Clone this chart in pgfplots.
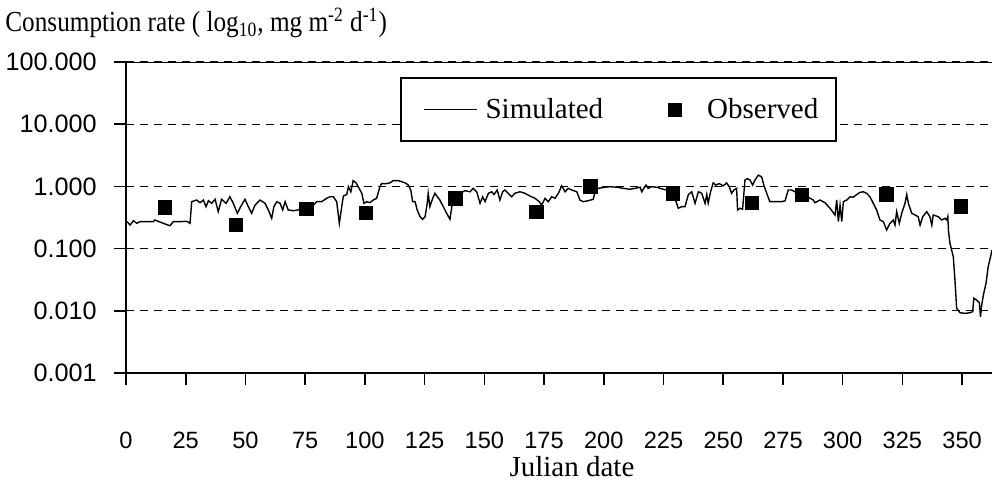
\documentclass[border=0pt]{standalone}
\usepackage{fontspec}
\setmainfont{Liberation Serif}
\newfontfamily\condserif[FakeStretch=0.87]{Liberation Serif}
\newfontfamily\arialfont{Liberation Sans}
\usepackage{pgfplots}
\pgfplotsset{compat=1.18}
\usepackage{pgfplotstable}

\pgfplotstableread{
day val
0.5 0.271
1.7 0.239
3.1 0.281
4.5 0.255
5.9 0.271
11.4 0.271
12.1 0.288
15.6 0.255
18.4 0.233
19.8 0.271
22.6 0.271
25.4 0.275
26.8 0.255
27.5 0.568
29.6 0.604
31.0 0.547
32.4 0.604
33.5 0.472
34.5 0.589
35.9 0.535
37.3 0.621
38.6 0.392
40.0 0.621
41.9 0.535
43.5 0.683
44.9 0.535
46.6 0.370
48.0 0.472
49.8 0.621
51.2 0.472
52.6 0.370
54.0 0.500
56.1 0.604
58.2 0.535
59.6 0.418
61.0 0.307
61.9 0.472
63.1 0.568
64.5 0.535
65.6 0.418
66.6 0.568
67.9 0.418
70.0 0.407
72.1 0.418
74.2 0.472
77.0 0.472
78.4 0.500
79.8 0.568
81.9 0.568
84.0 0.644
85.4 0.683
86.8 0.683
88.2 0.568
89.3 0.255
90.3 0.472
91.0 0.700
92.4 0.740
93.1 0.990
94.1 0.820
95.1 1.240
96.3 1.140
97.2 0.990
98.7 0.775
99.6 0.535
100.8 0.568
102.1 0.547
103.5 0.604
104.9 0.644
106.3 0.990
107.0 1.110
109.1 1.110
110.5 1.140
111.9 1.240
114.0 1.240
115.4 1.190
116.8 1.140
118.2 1.050
119.2 0.875
120.0 0.568
121.0 0.568
121.9 0.418
123.1 0.326
124.2 0.296
125.2 0.326
126.1 0.535
126.5 0.775
127.2 0.472
128.4 0.644
129.3 0.775
130.3 0.683
131.4 0.604
132.8 0.472
134.2 0.370
135.6 0.296
136.8 0.604
137.7 0.775
139.8 0.775
141.9 0.853
144.0 0.820
145.4 0.930
146.8 0.820
148.2 0.535
149.3 0.683
150.3 0.568
151.7 0.775
153.1 0.820
154.0 0.740
155.4 0.875
156.5 0.604
157.7 0.820
158.6 0.875
160.0 0.775
161.4 0.683
162.8 0.775
164.9 0.820
167.0 0.775
169.1 0.700
171.2 0.644
173.0 0.568
174.0 0.500
175.4 0.644
176.8 0.568
178.2 0.683
179.6 0.644
181.0 0.775
182.4 1.020
183.8 0.820
185.1 0.930
186.6 0.875
188.7 0.820
190.0 0.604
191.4 0.568
193.5 0.589
195.6 0.621
196.3 0.820
197.7 0.930
199.8 0.960
202.6 0.990
205.4 0.970
208.2 0.930
211.0 0.900
213.1 0.930
215.2 0.970
215.9 0.820
216.5 0.900
217.7 1.050
218.6 0.930
220.0 0.990
222.1 0.970
224.9 0.900
226.3 0.875
227.7 0.775
229.8 0.644
231.2 0.445
232.6 0.472
234.0 0.472
235.4 0.740
236.8 0.820
238.2 0.535
239.6 0.820
241.0 0.775
242.4 0.535
243.1 0.740
243.7 0.535
244.7 0.820
245.8 1.140
247.0 1.050
248.3 1.110
250.0 1.020
251.4 1.140
252.5 0.990
253.5 0.775
254.5 0.875
255.6 0.930
256.0 0.418
257.0 0.445
258.1 0.430
259.1 1.270
260.1 1.330
261.2 1.270
262.3 1.050
263.3 1.270
264.7 1.520
266.1 1.420
267.0 1.050
268.2 0.775
269.5 0.568
271.6 0.568
274.5 0.568
275.9 0.589
277.2 0.875
278.6 0.875
280.0 0.820
281.4 0.775
283.5 0.740
286.3 0.644
287.7 0.604
288.4 0.547
290.5 0.604
292.6 0.547
294.7 0.445
296.8 0.347
297.5 0.604
298.2 0.271
298.9 0.500
299.6 0.271
300.3 0.568
301.7 0.604
303.1 0.683
304.4 0.670
305.9 0.740
307.2 0.800
308.6 0.820
310.0 0.775
311.4 0.683
312.8 0.535
314.2 0.418
315.6 0.288
317.0 0.271
318.4 0.199
319.8 0.255
321.2 0.288
321.9 0.239
322.6 0.392
323.7 0.255
324.7 0.370
326.1 0.535
326.8 0.740
327.5 0.535
328.9 0.370
330.3 0.347
331.6 0.326
332.4 0.239
333.5 0.326
335.2 0.392
336.5 0.326
337.3 0.239
337.9 0.347
340.0 0.326
341.4 0.288
342.8 0.307
343.5 0.288
344.0 0.330
344.3 0.190
344.9 0.122
346.3 0.074
347.0 0.031
347.7 0.011
349.1 0.0093
351.2 0.0091
353.3 0.0093
354.4 0.0097
354.9 0.0159
356.1 0.0149
357.2 0.0135
357.7 0.0080
358.2 0.0124
358.9 0.0180
360.0 0.0277
360.9 0.051
361.9 0.074
362.5 0.095
}\simdata

\pgfplotstableread{
day val
16.3 0.455
46.0 0.240
75.6 0.434
100.5 0.377
138.0 0.644
171.9 0.390
194.5 0.990
229.0 0.774
262.0 0.547
283.0 0.727
318.4 0.746
349.4 0.472
}\obsdata

\begin{document}
\begin{tikzpicture}
\path[use as bounding box] (0,0) rectangle (496pt,241.5pt);
\node[anchor=base west, inner sep=0pt, font=\condserif\fontsize{14.5}{17}\selectfont] at (2.5pt,225.5pt)
  {Consumption rate ( log\textsubscript{10}, mg m\textsuperscript{-2} d\textsuperscript{-1})};
\begin{axis}[
  at={(63pt,55pt)}, anchor=south west,
  scale only axis, width=433pt, height=155.5pt,
  xmin=0, xmax=362.5, ymin=0.001, ymax=100,
  ymode=log,
  axis x line*=bottom, axis y line*=left,
  axis line style={line width=1pt, -},
  xtick={0,25,...,350},
  ytick={0.001,0.01,0.1,1,10,100},
  yticklabels={0.001,0.010,0.100,1.000,10.000,100.000},
  xminorticks=false, yminorticks=false,
  tick align=outside, major tick length=6pt,
  tick style={line width=0.8pt, black},
  ymajorgrids, grid style={dash pattern=on 4pt off 3pt, line width=0.6pt, black},
  /pgf/number format/assume math mode=true,
  xticklabel style={font=\arialfont\fontsize{11.8}{13}\selectfont, anchor=base, inner sep=0pt, yshift=-32pt},
  yticklabel style={font=\arialfont\fontsize{12.6}{14}\selectfont, anchor=east, inner sep=0pt, xshift=-8.5pt},
  xlabel={Julian date},
  xlabel style={at={(rel axis cs:0.515,0)}, anchor=base, yshift=-51.5pt, inner sep=0pt, font=\fontsize{14.5}{17}\selectfont},
  legend style={at={(rel axis cs:0.5687,0.847)}, anchor=center, draw=black, line width=1pt, fill=white,
    font=\fontsize{14.5}{17}\selectfont, inner xsep=7pt, inner ysep=8pt,
    /tikz/every even column/.append style={column sep=30.5pt}},
  legend columns=2,
  legend cell align=left,
]
\addplot[black, line width=0.7pt, legend image code/.code={\path[draw=none] (-4.5pt,0pt) rectangle (29pt,0pt); \draw[black, line width=0.7pt] (0pt,0pt) -- (26.5pt,0pt);}] table[x=day,y=val]{\simdata};
\addlegendentry{Simulated}
\addplot[only marks, mark=square*, mark size=3.4pt, black, legend image code/.code={\path[draw=none] (0pt,0pt) rectangle (17pt,0pt); \fill[black] (0pt,-3pt) rectangle (6pt,3pt);}] table[x=day,y=val]{\obsdata};
\addlegendentry{Observed}
\draw[line width=1pt] (rel axis cs:0,1) -- (rel axis cs:1,1);
\end{axis}
\end{tikzpicture}
\end{document}
